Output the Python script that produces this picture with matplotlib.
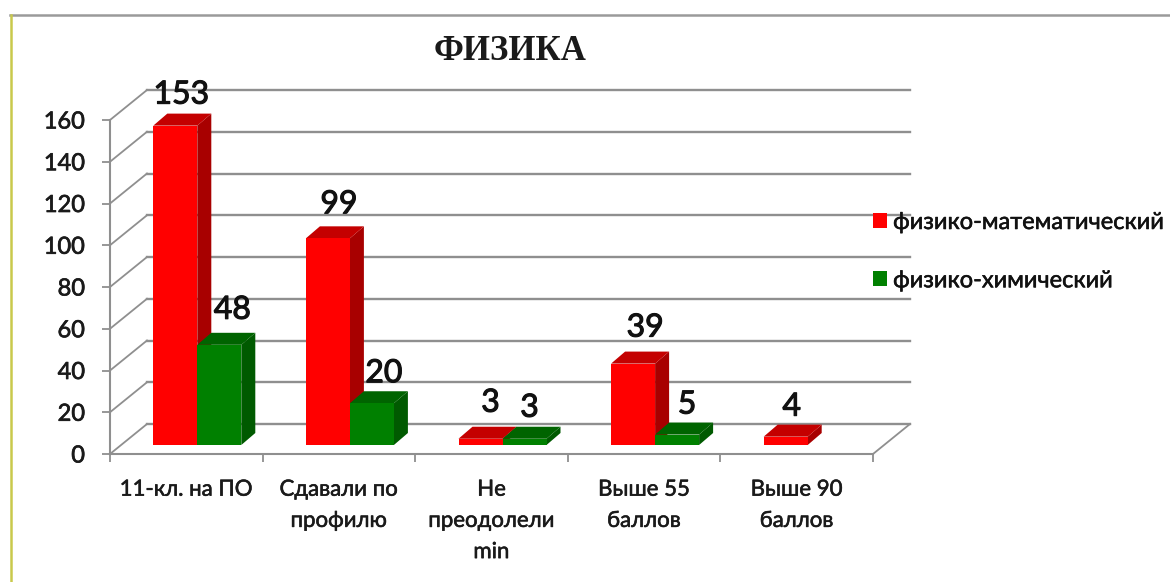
import numpy as np
import matplotlib
matplotlib.use('Agg')
import matplotlib.pyplot as plt
import matplotlib.patheffects as pe
from matplotlib.lines import Line2D
from matplotlib.patches import Polygon

plt.rcParams['font.family'] = ['Lato', 'Noto Sans', 'DejaVu Sans']

categories = ['11-кл. на ПО', 'Сдавали по\nпрофилю', 'Не\nпреодолели\nmin', 'Выше 55\nбаллов', 'Выше 90\nбаллов']
phys_math = [153, 99, 3, 39, 4]
phys_chem = [48, 20, 3, 5, None]
yticks = list(range(0, 161, 20))
title = 'ФИЗИКА'
series_names = ['физико-математический', 'физико-химический']

W, H = 1170, 582
GRID = '#8f8f8f'
TEXT = '#1a1a1a'

fig = plt.figure(figsize=(W / 100, H / 100), dpi=100, facecolor='white')
# front plane of the fake 3d box, pixels
ax = fig.add_axes([110 / W, 1 - 454 / H, 763 / W, 334 / H])
ax.set_xlim(0, 5)
ax.set_ylim(0, 160)
ax.patch.set_visible(False)

# pixel -> data units
px = 5 / 763
py = 160 / 334

# wall depth
wall_dx, wall_dy = 37 * px, 30 * py
# bars sit inside the box
bar_dx, bar_dy = 11 * px, 9 * py
depth_x, depth_y = 14 * px, 12 * py
bar_w = 44 * px


def thicken(t, w=0.5):
    # the reference text is heavier than regular lato but not quite bold
    t.set_path_effects([pe.withStroke(linewidth=w, foreground=t.get_color())])


def draw_bar(xleft, value, front, top, side, label=None):
    base = bar_dy
    xl = xleft
    xr = xleft + bar_w
    yt = base + value
    ax.add_patch(Polygon([(xr, base), (xr + depth_x, base + depth_y), (xr + depth_x, yt + depth_y), (xr, yt)],
                         facecolor=side, edgecolor='none', clip_on=False, zorder=3))
    ax.add_patch(Polygon([(xl, yt), (xl + depth_x, yt + depth_y), (xr + depth_x, yt + depth_y), (xr, yt)],
                         facecolor=top, edgecolor='none', clip_on=False, zorder=3))
    return ax.bar(xl, value, bar_w, bottom=base, align='edge', color=front, clip_on=False, zorder=3, label=label)


# walls
for v in yticks:
    ax.plot([0, wall_dx], [v, v + wall_dy], color=GRID, lw=1.3, clip_on=False, zorder=1)
    ax.plot([wall_dx, 5 + wall_dx], [v + wall_dy, v + wall_dy], color=GRID, lw=1.7, clip_on=False, zorder=1)
ax.plot([5, 5 + wall_dx], [0, wall_dy], color=GRID, lw=1.3, clip_on=False, zorder=1)

# bars + value labels
handles = [None, None]
# small hand nudges for the labels, the original ones were not placed evenly
nudge_math = [(-4, -5), (1, -2), (0, 0), (2, 0), (-4, -6)]
nudge_chem = [(3, -1), (2, -6), (-5, -5), (0, -6), (0, 0)]
for i in range(len(categories)):
    center = i + 0.5 + bar_dx
    for s, (vals, cols, nudge) in enumerate([(phys_math, ('#ff0000', '#c40000', '#a80000'), nudge_math),
                                             (phys_chem, ('#008000', '#006400', '#005a00'), nudge_chem)]):
        v = vals[i]
        if v is None:
            continue
        xleft = center - bar_w if s == 0 else center
        h = draw_bar(xleft, v, cols[0], cols[1], cols[2], label=series_names[s] if i == 0 else None)
        if i == 0:
            handles[s] = h
        t = ax.annotate(str(v), (xleft + bar_w / 2, v + bar_dy), xytext=((10 + nudge[i][0]) / 1.389, (36 + nudge[i][1]) / 1.389),
                        textcoords='offset points', ha='center', va='center', fontsize=23,
                        color='#111111', annotation_clip=False, zorder=6)
        thicken(t, 0.8)

# axes
for name in ['top', 'right']:
    ax.spines[name].set_visible(False)
for name in ['left', 'bottom']:
    ax.spines[name].set_color(GRID)
    ax.spines[name].set_linewidth(1.5)
    ax.spines[name].set_zorder(2)
ax.set_yticks(yticks)
ax.tick_params(axis='y', length=6, width=1.3, color=GRID, labelsize=17, labelcolor=TEXT, pad=12)
for t in ax.get_yticklabels():
    thicken(t)
ax.set_xticks(np.arange(0, 6))
ax.set_xticklabels([])
ax.tick_params(axis='x', which='major', length=6, width=1.3, color=GRID)
ax.set_xticks(np.arange(len(categories)) + 0.5, minor=True)
ax.set_xticklabels(categories, minor=True, fontsize=16, color=TEXT, linespacing=1.7, ha='center', va='top')
ax.tick_params(axis='x', which='minor', length=0, pad=18.5)
for t in ax.get_xticklabels(minor=True):
    thicken(t, 0.4)

fig.text(510 / W, 1 - 51 / H, title, family='Liberation Serif', fontweight='bold', fontsize=25,
         color='#1a1a1a', ha='center', va='center')

leg = fig.legend(handles, series_names, loc='upper left', bbox_to_anchor=(873 / W, 1 - 212 / H), frameon=False,
                 fontsize=17, handlelength=0.6, handleheight=0.6, handletextpad=0.25, labelspacing=1.58,
                 borderpad=0, borderaxespad=0, labelcolor='#111111')
for t in leg.get_texts():
    thicken(t, 0.4)

# slide frame
fig.add_artist(Line2D([10 / W, 1], [1 - 15 / H, 1 - 15 / H], color='#9a9a9a', lw=1.8))
fig.add_artist(Line2D([11 / W, 11 / W], [0, 1 - 15 / H], color='#c9c94c', lw=1.8))

fig.savefig('out.png', dpi=100)
